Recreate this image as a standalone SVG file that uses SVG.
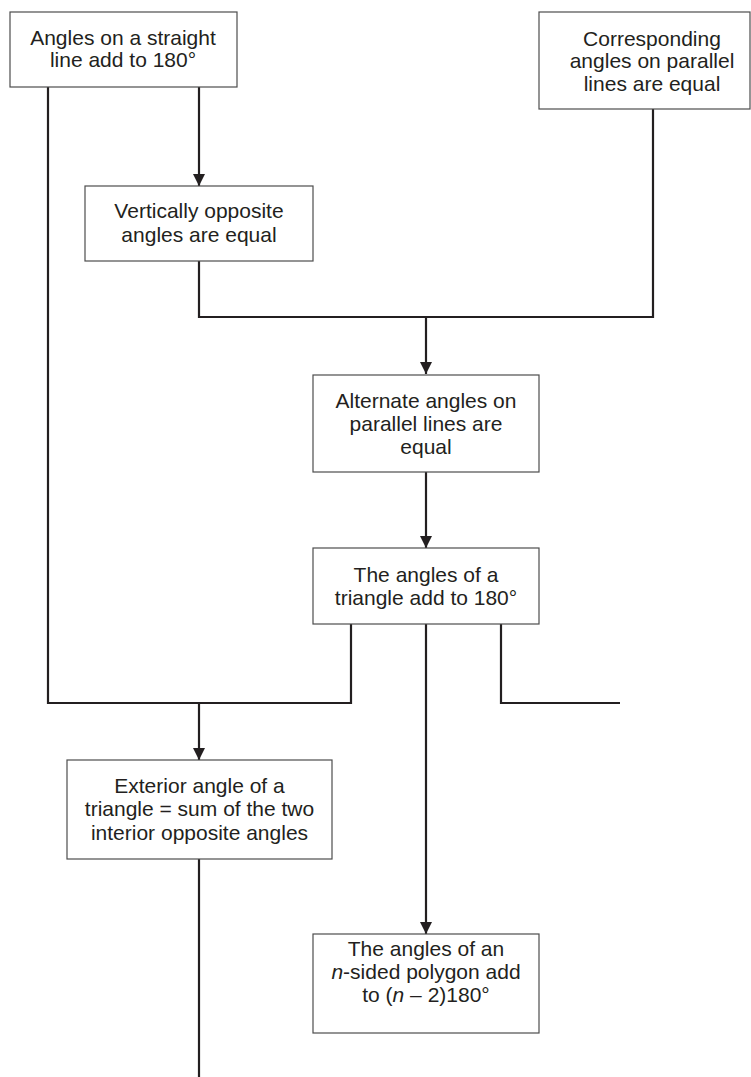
<svg xmlns="http://www.w3.org/2000/svg" width="751" height="1077" viewBox="0 0 751 1077">
<style>
.box{fill:#fff;stroke:#4d4d4d;stroke-width:1.2}
.t{font-family:"Liberation Sans",Arial,Helvetica,sans-serif;font-size:21px;fill:#231f20;text-anchor:middle}
.ln{fill:none;stroke:#231f20;stroke-width:2.2}
.i{font-style:italic}
</style>
<defs>
<marker id="ah" viewBox="0 0 12 12" refX="12" refY="6" markerWidth="12" markerHeight="12" markerUnits="userSpaceOnUse" orient="auto">
<path d="M0,0 L12,6 L0,12 Z" fill="#231f20"/>
</marker>
</defs>
<rect width="751" height="1077" fill="#fff"/>
<g id="connectors">
<path class="ln" d="M48,87 V703 H351 V624"/>
<path class="ln" d="M199,87 V186" marker-end="url(#ah)"/>
<path class="ln" d="M199,261 V317 H653 V109"/>
<path class="ln" d="M426,317 V374" marker-end="url(#ah)"/>
<path class="ln" d="M426,472 V548" marker-end="url(#ah)"/>
<path class="ln" d="M199,703 V760" marker-end="url(#ah)"/>
<path class="ln" d="M426,624 V934" marker-end="url(#ah)"/>
<path class="ln" d="M501,624 V703 H620"/>
<path class="ln" d="M199,859 V1077"/>
</g>
<g id="n1">
<rect class="box" x="10" y="12" width="227" height="75"/>
<text class="t" x="123" y="45">Angles on a straight</text>
<text class="t" x="123" y="67">line add to 180°</text>
</g>
<g id="n2">
<rect class="box" x="539" y="12" width="211" height="97"/>
<text class="t" x="652" y="45.5">Corresponding</text>
<text class="t" x="652" y="68">angles on parallel</text>
<text class="t" x="652" y="90.5">lines are equal</text>
</g>
<g id="n3">
<rect class="box" x="85" y="186" width="228" height="75"/>
<text class="t" x="199" y="217.5">Vertically opposite</text>
<text class="t" x="199" y="241.5">angles are equal</text>
</g>
<g id="n4">
<rect class="box" x="313" y="375" width="226" height="97"/>
<text class="t" x="426" y="408">Alternate angles on</text>
<text class="t" x="426" y="431">parallel lines are</text>
<text class="t" x="426" y="453.5">equal</text>
</g>
<g id="n5">
<rect class="box" x="313" y="548" width="226" height="76"/>
<text class="t" x="426" y="581.5">The angles of a</text>
<text class="t" x="426" y="604.5">triangle add to 180°</text>
</g>
<g id="n6">
<rect class="box" x="67" y="760" width="265" height="99"/>
<text class="t" x="199.5" y="792.5">Exterior angle of a</text>
<text class="t" x="199.5" y="816">triangle = sum of the two</text>
<text class="t" x="199.5" y="839.5">interior opposite angles</text>
</g>
<g id="n7">
<rect class="box" x="313" y="934" width="226" height="99"/>
<text class="t" x="426" y="956">The angles of an</text>
<text class="t" x="426" y="979"><tspan class="i">n</tspan>-sided polygon add</text>
<text class="t" x="426" y="1002">to (<tspan class="i">n</tspan> – 2)180°</text>
</g>
</svg>
